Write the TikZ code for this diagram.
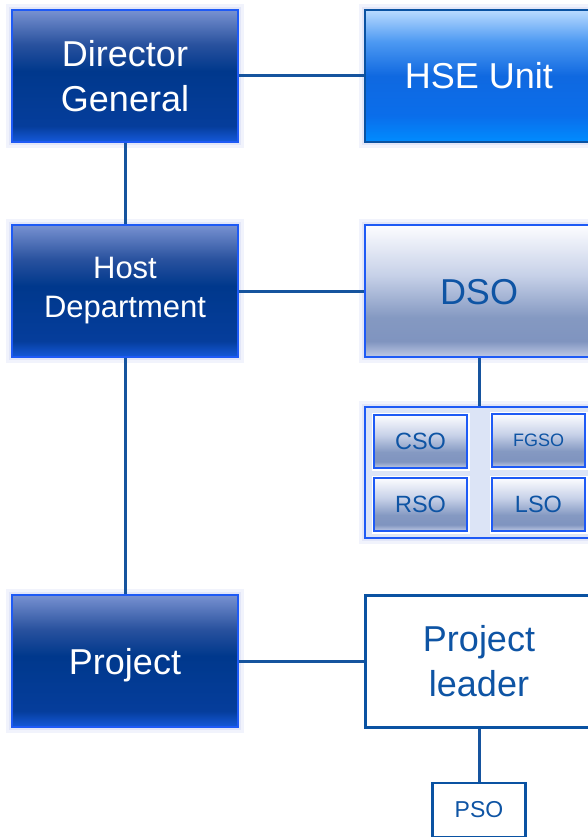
\documentclass[tikz,border=0pt]{standalone}
\usepackage{fontspec}
\setmainfont{Liberation Sans}
\definecolor{linkblue}{RGB}{22,84,158}
\definecolor{edgeblue}{RGB}{30,90,245}
\definecolor{glowouter}{RGB}{241,243,252}
\definecolor{glowinner}{RGB}{226,230,248}
\definecolor{grouppale}{RGB}{220,228,246}
\definecolor{textblue}{RGB}{14,84,164}
\definecolor{plainedge}{RGB}{10,82,162}
% vertical shadings, box spans 25bp (bottom) to 75bp (top)
\pgfdeclareverticalshading{navyshade}{100bp}{rgb(0bp)=(0.08,0.35,0.86); rgb(25bp)=(0.08,0.35,0.86);
    rgb(31bp)=(0.02,0.24,0.61); rgb(52bp)=(0,0.22,0.55); rgb(62bp)=(0.16,0.32,0.62);
    rgb(75bp)=(0.47,0.57,0.82); rgb(100bp)=(0.47,0.57,0.82)}
\pgfdeclareverticalshading{skyshade}{100bp}{rgb(0bp)=(0,0.55,1); rgb(25bp)=(0,0.55,1);
    rgb(35bp)=(0.04,0.43,0.92); rgb(50bp)=(0.06,0.41,0.88); rgb(63bp)=(0.3,0.6,0.95);
    rgb(75bp)=(0.73,0.86,1); rgb(100bp)=(0.73,0.86,1)}
\pgfdeclareverticalshading{mistshade}{100bp}{rgb(0bp)=(0.75,0.79,0.9); rgb(25bp)=(0.75,0.79,0.9);
    rgb(31bp)=(0.5,0.58,0.75); rgb(40bp)=(0.52,0.6,0.76); rgb(56bp)=(0.78,0.82,0.91);
    rgb(75bp)=(0.99,0.99,1); rgb(100bp)=(0.99,0.99,1)}

\begin{document}
\begin{tikzpicture}[x=1pt,y=-1pt]
    \tikzstyle{every node} = [font=\fontsize{36}{45}\selectfont, align=center, inner sep=0pt]
    \tikzstyle{oneline} = [text height=26pt, text depth=0pt]
    \tikzstyle{glow} = [preaction={draw=glowouter, line width=12pt}, preaction={draw=glowinner, line width=6pt}]
    \tikzstyle{navybox} = [glow, draw=edgeblue, line width=1.5pt, shading=navyshade, text=white, minimum width=226pt, minimum height=132pt]
    \tikzstyle{skybox} = [glow, draw=plainedge, line width=1.5pt, shading=skyshade, text=white, minimum width=228pt, minimum height=132pt]
    \tikzstyle{mistbox} = [glow, draw=edgeblue, line width=2pt, shading=mistshade, text=textblue, minimum width=228pt, minimum height=132pt]
    \tikzstyle{groupbox} = [glow, draw=edgeblue, line width=2pt, fill=grouppale, minimum width=228pt, minimum height=131pt]
    \tikzstyle{smallbox} = [preaction={draw=white, line width=5pt}, draw=edgeblue, line width=2pt, shading=mistshade, text=textblue, minimum width=93pt, minimum height=53pt, font=\fontsize{23.5}{23.5}\selectfont]
    \tikzstyle{plainbox} = [draw=plainedge, line width=3pt, fill=white, text=textblue, minimum width=228pt, minimum height=132pt]
    \tikzstyle{link} = [draw=linkblue, line width=3pt]

    \clip (0,0) rectangle (588,837);

    % left column
    \node[navybox] (dg) at (125,76) {Director\\General};
    \node[navybox, font=\fontsize{31}{39}\selectfont] (host) at (125,291) {Host\\Department};
    \node[navybox, oneline] (proj) at (125,661) {Project};

    % right column
    \node[skybox, oneline] (hse) at (479,76) {HSE Unit};
    \node[mistbox, oneline] (dso) at (479,291) {DSO};
    \node[groupbox] (grp) at (479,472.5) {};
    \node[smallbox] (cso) at (420.5,441.5) {CSO};
    \node[smallbox, font=\fontsize{18}{18}\selectfont] (fgso) at (538.5,440.5) {FGSO};
    \node[smallbox] (rso) at (420.5,504.5) {RSO};
    \node[smallbox] (lso) at (538.5,504.5) {LSO};
    \node[plainbox] (lead) at (479,661) {Project\\leader};
    \node[plainbox, line width=2.5pt, minimum width=93pt, minimum height=54pt, font=\fontsize{23}{23}\selectfont] (pso) at (479,810) {PSO};

    % connectors
    \draw[link] (dg) -- (hse);
    \draw[link] (dg) -- (host);
    \draw[link] (host) -- (dso);
    \draw[link] (host) -- (proj);
    \draw[link] (dso) -- (grp);
    \draw[link] (proj) -- (lead);
    \draw[link] (lead) -- (pso);
\end{tikzpicture}
\end{document}
